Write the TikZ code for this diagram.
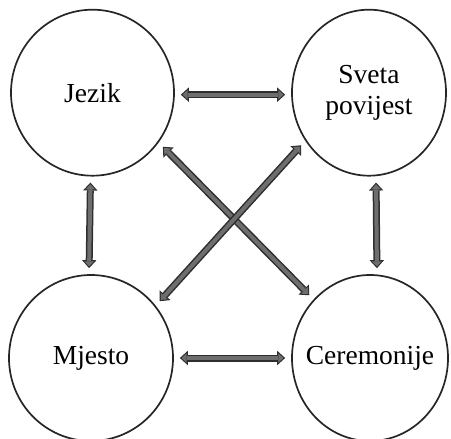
\documentclass[tikz,border=0pt]{standalone}
\usepackage{fontspec}
\setmainfont{Liberation Serif}
\usetikzlibrary{shapes.geometric}
\usetikzlibrary{arrows.meta}
\tikzset{
  topic/.style={ellipse, draw=black!85, line width=1.7pt, inner sep=0pt,
    minimum height=166pt},
  topictext/.style={align=center, inner sep=0pt,
    font=\fontsize{27.5}{31}\selectfont},
  link/.style={draw=black!82, line width=7pt, shorten <=6pt, shorten >=6pt,
    {Triangle[width=14.5pt,length=8pt,line width=0pt]}-{Triangle[width=14.5pt,length=8pt,line width=0pt]},
    postaction={draw=black!57, line width=4pt, shorten <=7.8pt, shorten >=7.8pt,
      {Triangle[width=9.5pt,length=5pt,line width=0pt]}-{Triangle[width=9.5pt,length=5pt,line width=0pt]}}}
}

\begin{document}
\begin{tikzpicture}[x=1pt,y=-1pt]
\useasboundingbox (0,0) rectangle (451,439);

%%%%%%%%%%%%%%%%%%%%%%%%%%%%%%%%%%%%%%%%%%%%%%%% circles
\node[topic, minimum width=163pt, label={[topictext]center:Jezik}] (J) at (92.5,92.7) {};
\node[topic, minimum width=154pt, label={[topictext]center:Sveta\\povijest}] (S) at (369,92.7) {};
\node[topic, minimum width=164pt, label={[topictext]center:Mjesto}] (M) at (91,358) {};
\node[topic, minimum width=156pt, label={[topictext]center:Ceremonije}] (C) at (370,358) {};

%%%%%%%%%%%%%%%%%%%%%%%%%%%%%%%%%%%%%%%%%%%%%%%% arrows
\draw[link] ([yshift=-2pt]J.east) -- ([yshift=-2pt]S.west);
\draw[link] (M.east) -- (C.west);
\draw[link] ([xshift=-2pt]J.south) -- ([xshift=-2pt]M.north);
\draw[link] ([xshift=7pt]S.south) -- ([xshift=7pt]C.north);

\draw[link] (J.-37) -- (C.134);
\draw[link] (S.-143) -- (M.39);

\end{tikzpicture}
\end{document}
